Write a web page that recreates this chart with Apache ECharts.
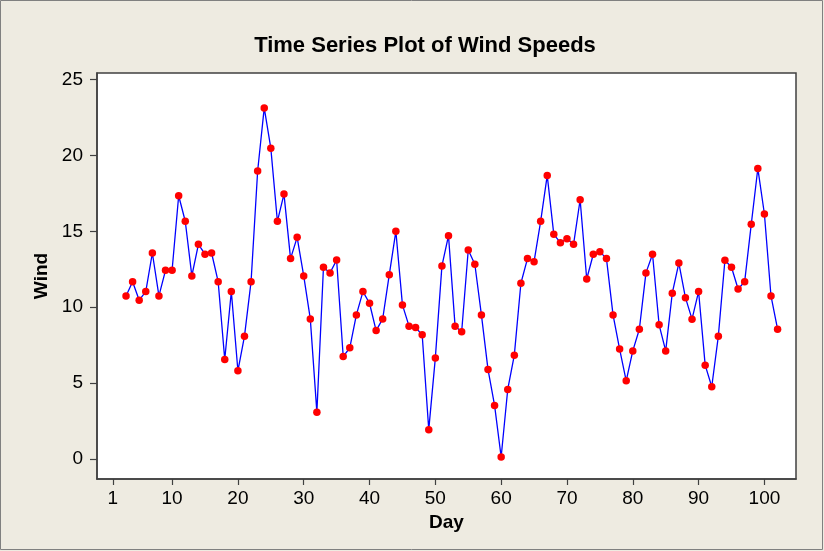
<!DOCTYPE html>
<html><head><meta charset="utf-8">
<script src="https://cdn.jsdelivr.net/npm/echarts@6/dist/echarts.min.js"></script>
<style>html,body{margin:0;padding:0;background:#EEEBE1}#c{width:824px;height:551px}</style>
</head><body><div id="c"></div>
<script>
const days = [];
for (let d = 3; d <= 102; d++) days.push(d);
const wind = [
10.74,11.68,10.46,11.03,13.57,10.74,12.43,12.43,17.34,15.66,
12.06,14.14,13.49,13.57,11.68,6.55,11.03,5.81,8.09,11.68,
18.97,23.13,20.48,15.66,17.45,13.2,14.6,12.06,9.23,3.07,
12.63,12.26,13.11,6.75,7.32,9.49,11.03,10.26,8.46,9.23,
12.14,15.0,10.15,8.75,8.66,8.18,1.93,6.66,12.72,14.71,
8.75,8.38,13.77,12.83,9.49,5.9,3.53,0.13,4.58,6.84,
11.58,13.2,13.0,15.66,18.68,14.8,14.25,14.51,14.14,17.08,
11.86,13.49,13.66,13.2,9.49,7.24,5.15,7.12,8.55,12.26,
13.49,8.84,7.12,10.92,12.91,10.63,9.21,11.03,6.18,4.76,
8.09,13.09,12.63,11.2,11.68,15.46,19.14,16.14,10.74,8.55
];
const xTicks = [1,10,20,30,40,50,60,70,80,90,100];
const yTicks = [0,5,10,15,20,25];
const font = '"Liberation Sans", Arial, sans-serif';
const chart = echarts.init(document.getElementById('c'));
chart.setOption({
  animation: false,
  backgroundColor: '#EEEBE1',
  title: {text: 'Time Series Plot of Wind Speeds', left: 420, top: 30, textAlign: 'center',
    textStyle: {fontFamily: font, fontWeight: 'bold', fontSize: 22, color: '#000'}},
  graphic: [{type: 'rect', shape: {x: 0.5, y: 0.5, width: 822, height: 549},
    style: {fill: 'none', stroke: '#808080', lineWidth: 1}, silent: true}],
  grid: {left: 97, right: 28, top: 73, bottom: 72, show: true, backgroundColor: '#fff',
    borderColor: '#404040', borderWidth: 1.5},
  xAxis: {type: 'value', min: -1.41, max: 104.8,
    name: 'Day', nameLocation: 'middle', nameGap: 33,
    nameTextStyle: {fontFamily: font, fontWeight: 'bold', fontSize: 19, color: '#000'},
    axisLine: {show: true, onZero: false, lineStyle: {color: '#404040', width: 1.5}},
    axisTick: {show: true, length: 6, customValues: xTicks, lineStyle: {color: '#404040', width: 1.2}},
    axisLabel: {customValues: xTicks, fontFamily: font, fontSize: 19, color: '#000', margin: 10},
    splitLine: {show: false}},
  yAxis: {type: 'value', min: -1.32, max: 25.43,
    name: 'Wind', nameLocation: 'middle', nameGap: 45, nameRotate: 90,
    nameTextStyle: {fontFamily: font, fontWeight: 'bold', fontSize: 19, color: '#000'},
    axisLine: {show: true, onZero: false, lineStyle: {color: '#404040', width: 1.5}},
    axisTick: {show: true, length: 7, customValues: yTicks, lineStyle: {color: '#404040', width: 1.2}},
    axisLabel: {customValues: yTicks, fontFamily: font, fontSize: 19, color: '#000', margin: 14},
    splitLine: {show: false}},
  series: [{type: 'line', data: days.map((d, i) => [d, wind[i]]),
    lineStyle: {color: '#0000FF', width: 1.3},
    symbol: 'circle', symbolSize: 7.5,
    itemStyle: {color: '#FF0000', borderWidth: 0}}]
});
</script></body></html>
